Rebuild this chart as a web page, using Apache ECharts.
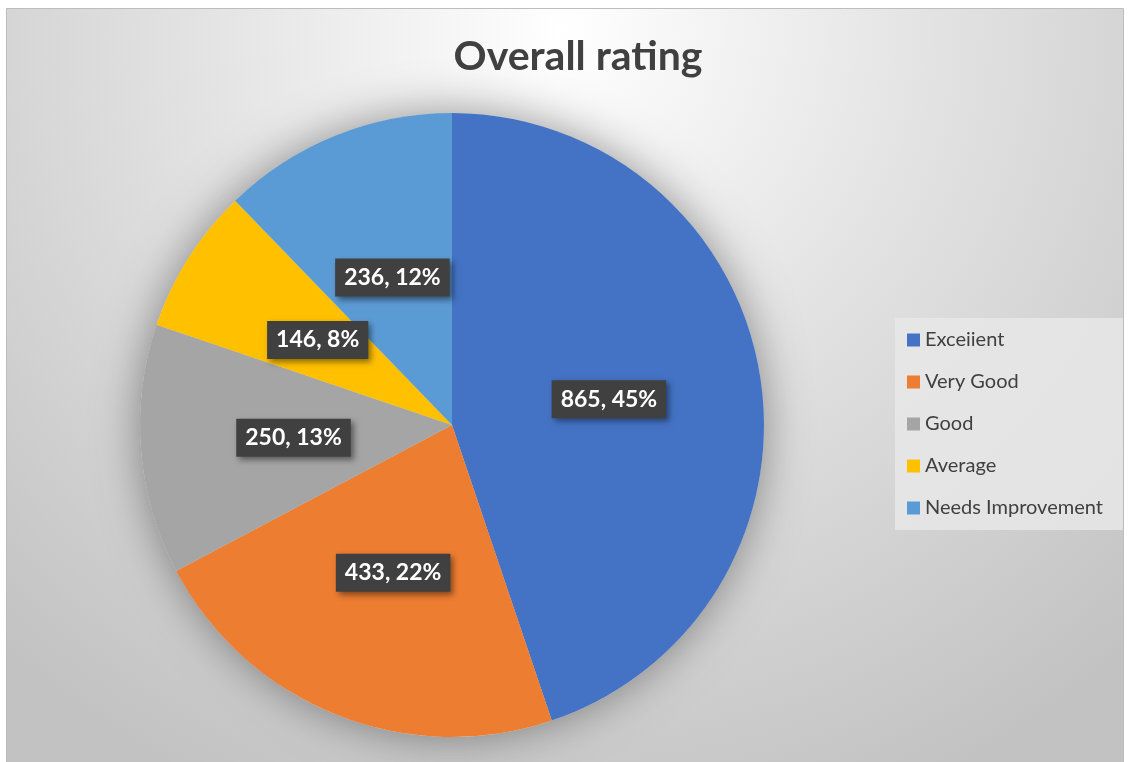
<!DOCTYPE html>
<html>
<head>
<meta charset="utf-8">
<title>Overall rating</title>
<script src="https://cdn.jsdelivr.net/npm/echarts@6/dist/echarts.min.js"></script>
<style>
html, body { margin: 0; padding: 0; background: #ffffff; }
#chart { width: 1129px; height: 762px; }
</style>
</head>
<body>
<div id="chart"></div>
<script>
// rating categories and counts
var categories = ['Exceiient', 'Very Good', 'Good', 'Average', 'Needs Improvement'];
var counts = [865, 433, 250, 146, 236];
var colors = ['#4472c4', '#ed7d31', '#a5a5a5', '#ffc000', '#5b9bd5'];

var pieData = [];
for (var i = 0; i < categories.length; i++) {
    pieData.push({ name: categories[i], value: counts[i], itemStyle: { color: colors[i] } });
}
var total = 0;
for (var j = 0; j < counts.length; j++) {
    total += counts[j];
}

var chart = echarts.init(document.getElementById('chart'));
var option = {
    animation: false,
    textStyle: { fontFamily: 'Lato' },
    graphic: [
        {
            type: 'rect',
            z: -10,
            silent: true,
            shape: { x: 6.5, y: 8.5, width: 1117, height: 760 },
            style: {
                fill: {
                    type: 'radial', x: 0.5, y: 0.03, r: 1.1,
                    colorStops: [
                        { offset: 0, color: '#ffffff' },
                        { offset: 0.45, color: '#e2e2e2' },
                        { offset: 1, color: '#c2c2c2' }
                    ]
                },
                stroke: '#bdbdbd',
                lineWidth: 1
            }
        }
    ],
    title: {
        text: 'Overall rating',
        left: 573,
        textAlign: 'center',
        top: 31,
        textStyle: { fontSize: 41, fontWeight: 'bold', color: '#404040', fontFamily: 'Lato' }
    },
    legend: {
        orient: 'vertical',
        left: 895,
        top: 318,
        padding: [12, 20, 12, 12],
        backgroundColor: 'rgba(232,232,232,0.85)',
        icon: 'rect',
        itemWidth: 13,
        itemHeight: 13,
        itemGap: 22,
        data: categories,
        textStyle: { fontSize: 20, lineHeight: 20, color: '#404040', fontFamily: 'Lato' }
    },
    series: [
        {
            // soft shadow behind the whole pie
            type: 'pie',
            silent: true,
            z: 1,
            center: [452, 425],
            radius: 312,
            label: { show: false },
            data: [{ value: total, name: 'shadow', itemStyle: { color: '#d8d8d8', shadowBlur: 45, shadowColor: 'rgba(0,0,0,0.4)' } }]
        },
        {
            type: 'pie',
            z: 2,
            center: [452, 425],
            radius: 312,
            startAngle: 90,
            clockwise: true,
            percentPrecision: 0,
            data: pieData,
            itemStyle: { borderWidth: 0 },
            label: {
                show: true,
                position: 'inside',
                formatter: '{c}, {d}%',
                color: '#ffffff',
                fontWeight: 'bold',
                fontSize: 23,
                fontFamily: 'Lato',
                backgroundColor: '#404040',
                padding: [8, 9, 7, 9],
                shadowBlur: 6,
                shadowOffsetX: 3,
                shadowOffsetY: 3,
                shadowColor: 'rgba(0,0,0,0.45)'
            },
            labelLine: { show: false },
            emphasis: { disabled: true }
        }
    ]
};
chart.setOption(option);
</script>
</body>
</html>
